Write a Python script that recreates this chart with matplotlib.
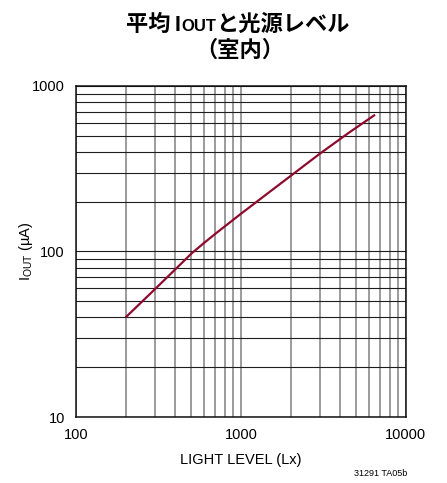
import matplotlib
matplotlib.use("Agg")
from matplotlib import pyplot as plt
from matplotlib.ticker import LogLocator, NullFormatter, FixedLocator, FixedFormatter

# values
lux = [200, 300, 400, 500, 600, 700, 1000, 1500, 2000, 3000, 4500, 6500]
iout = [40, 59, 78, 97, 113, 128, 169, 230, 286, 389, 521, 670]

x_ticks = [100, 1000, 10000]
x_tick_labels = ["100", "1000", "10000"]
y_ticks = [10, 100, 1000]
y_tick_labels = ["10", "100", "1000"]

latin = ["Liberation Sans Narrow", "Liberation Sans", "DejaVu Sans"]
cjk = ["Noto Sans CJK JP", "DejaVu Sans"]
plt.rcParams["font.family"] = latin
plt.rcParams["mathtext.fontset"] = "custom"
plt.rcParams["mathtext.rm"] = "Liberation Sans"

fig = plt.figure(figsize=(4.47, 4.83), dpi=100)
ax = fig.add_axes([0.170, 0.1366, 0.738, 0.6854])

ax.plot(lux, iout, color="#8e0b2d", lw=1.6, solid_capstyle="butt", zorder=3)

ax.set_xscale("log")
ax.set_yscale("log")
ax.set_xlim(100, 10000)
ax.set_ylim(10, 1000)

ax.xaxis.set_major_locator(FixedLocator(x_ticks))
ax.xaxis.set_major_formatter(FixedFormatter(x_tick_labels))
ax.yaxis.set_major_locator(FixedLocator(y_ticks))
ax.yaxis.set_major_formatter(FixedFormatter(y_tick_labels))
ax.xaxis.set_minor_locator(LogLocator(base=10, subs=range(2, 10)))
ax.yaxis.set_minor_locator(LogLocator(base=10, subs=range(2, 10)))
ax.xaxis.set_minor_formatter(NullFormatter())
ax.yaxis.set_minor_formatter(NullFormatter())

ax.grid(True, which="both", axis="x", color="#808080", lw=1.1)
ax.grid(True, which="both", axis="y", color="#1e1e1e", lw=0.8)
ax.tick_params(which="both", length=0, labelsize=10.5, pad=8)
for s in ax.spines.values():
    s.set_linewidth(1.1)
    s.set_color("#111111")

ax.set_xlabel("LIGHT LEVEL (Lx)", fontsize=10.5, labelpad=8)
ax.set_ylabel(r"I$_{\mathregular{OUT}}$ (µA)", fontsize=10.5)
ax.yaxis.set_label_coords(-0.124, 0.5)

# title, built from pieces so OUT can be smaller
H = 483.0
W = 447.0
base1 = 1 - 31 / H
fig.text(126 / W, base1, "平均", family=cjk, fontsize=16, fontweight="bold", va="baseline")
fig.text(175 / W, base1, "I", family=latin, fontsize=15.5, fontweight="bold", va="baseline")
fig.text(181 / W, base1, "OUT", family=latin, fontsize=12, fontweight="bold", va="baseline")
fig.text(216 / W, base1, "と光源レベル", family=cjk, fontsize=16, fontweight="bold", va="baseline")
fig.text(240 / W, 1 - 57 / H, "（室内）", family=cjk, fontsize=16, fontweight="bold",
         va="baseline", ha="center")

fig.text(407 / W, 1 - 476 / H, "31291 TA05b", fontsize=6.5, ha="right", va="baseline")

fig.savefig("out.png", dpi=100)
